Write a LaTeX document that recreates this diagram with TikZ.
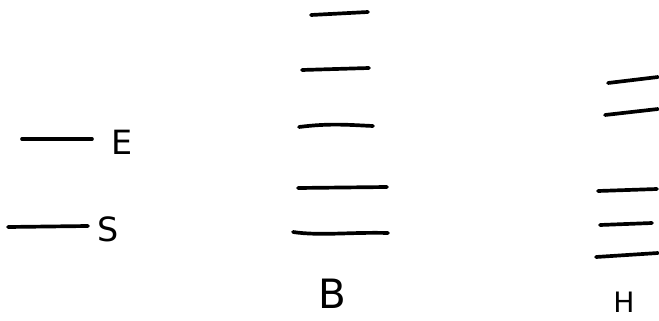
\documentclass[tikz,border=0pt]{standalone}
\usepackage{fontspec}
\setsansfont{DejaVu Sans}
\usepackage{tikz}
\usetikzlibrary{positioning}

\begin{document}
\begin{tikzpicture}[
    x=0.02cm, y=-0.02cm,
    level/.style={line width=2.1pt, line cap=round, color=black},
    tag/.style={font=\sffamily\fontsize{19}{19}\selectfont\mdseries, inner sep=0pt}
]
\useasboundingbox (0,0) rectangle (659,321);

% Left pair
\draw[level] (22,139) -- (92,139);
\node[tag] (lE) at (122,142) {E};
\draw[level] (8,227) -- (88,226);
\node[tag] (lS) at (108,229) {S};

% B column
\draw[level] (311,15) -- (368,12);
\draw[level] (302,70) -- (369,68);
\draw[level] (299,127) .. controls (330,123) and (350,125) .. (373,126);
\draw[level] (298,188) -- (387,187);
\draw[level] (293,232) .. controls (320,236) and (350,232) .. (388,233);
\node[tag, font=\sffamily\fontsize{23}{23}\selectfont] (lB) at (332,294) {B};

% H column
\draw[level] (608,83) -- (658,77);
\draw[level] (605,115) -- (658,109);
\draw[level] (598,191) -- (657,189);
\draw[level] (600,225) -- (652,223);
\draw[level] (596,257) -- (658,253);
\node[tag, font=\sffamily\fontsize{16}{16}\selectfont] (lH) at (624,302) {H};

\end{tikzpicture}
\end{document}
